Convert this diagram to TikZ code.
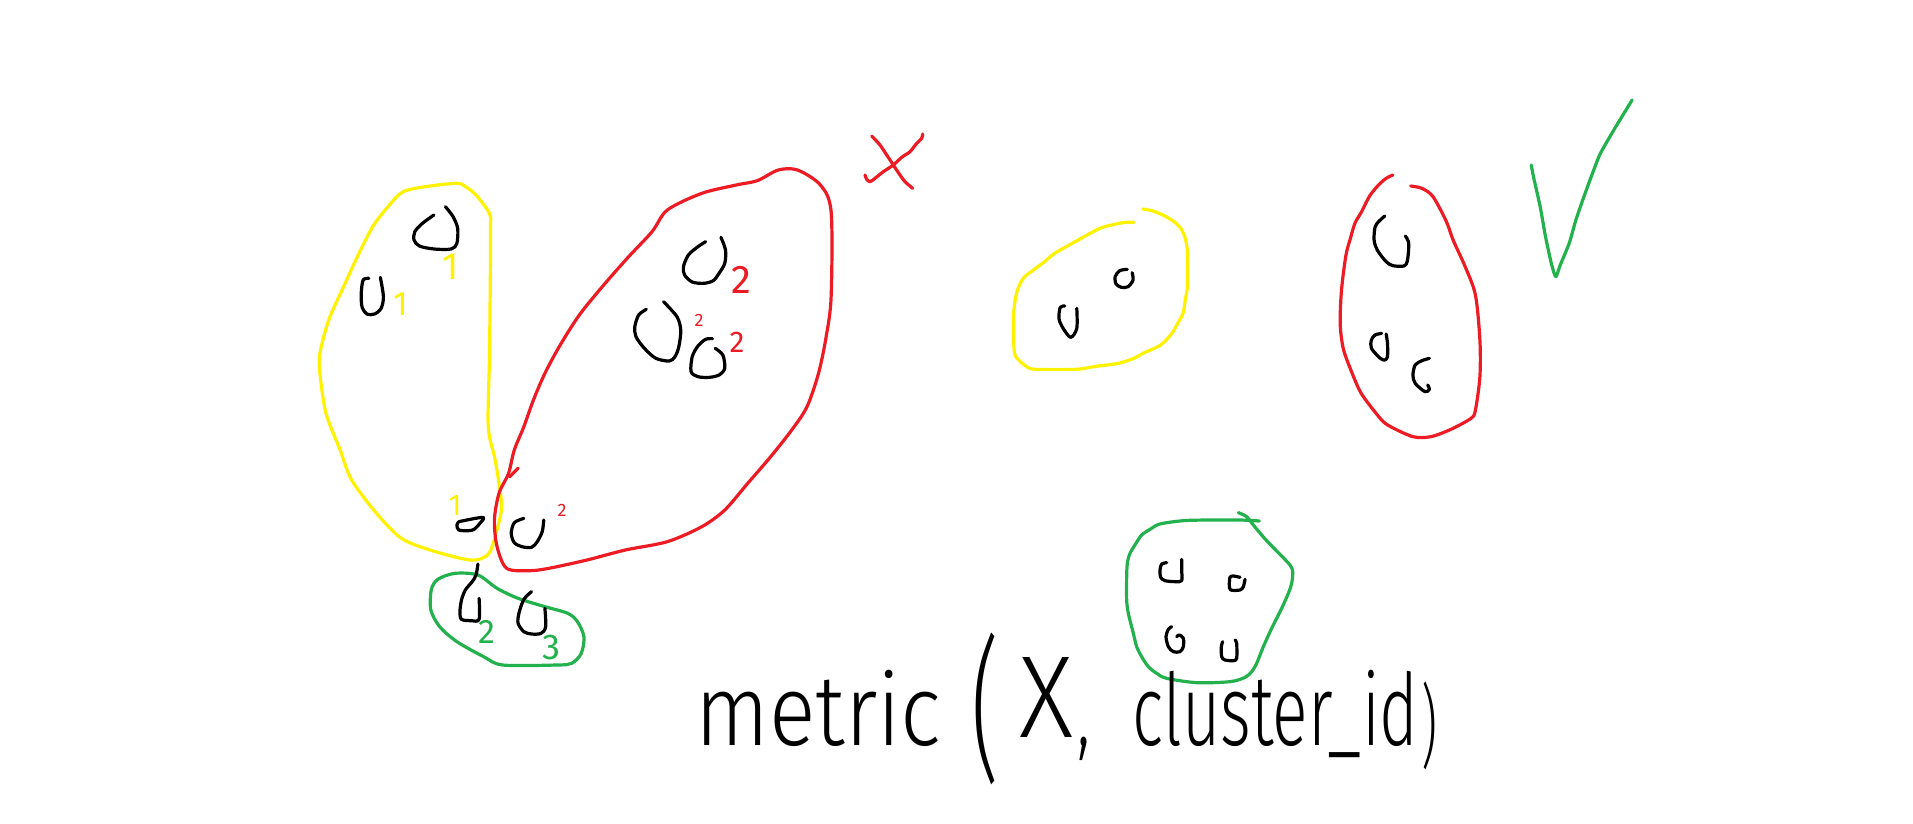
\documentclass[tikz,border=0pt]{standalone}
\usepackage{graphicx}
\usepackage{fontspec}
\newfontfamily\hand{Fira Sans Light}
\newfontfamily\digit{Fira Sans}
\definecolor{pyellow}{RGB}{255,242,0}
\definecolor{pred}{RGB}{237,28,36}
\definecolor{pgreen}{RGB}{34,177,76}
\tikzset{
  pen/.style={line width=1.6pt, line cap=round, line join=round},
  yel/.style={pen, draw=pyellow},
  rd/.style={pen, draw=pred},
  grn/.style={pen, draw=pgreen},
  blk/.style={pen, draw=black},
  lab/.style={inner sep=0pt},
  frameA/.style={x=0.19133pt, y=-0.166667pt},
  frameB/.style={x=0.22321pt, y=-0.166667pt},
  frameC/.style={x=0.166667pt, y=-0.166667pt}
}
\begin{document}
\begin{tikzpicture}[x=0.5pt, y=-0.5pt]
\useasboundingbox (0,0) rectangle (1913,824);
% ---------- left group ----------
\begin{scope}[shift={(300,160)}, frameA]
% yellow big loop
\draw[yel] plot[smooth cycle, tension=0.5] coordinates {(410,70) (340,78) (270,95) (230,140) (190,200) (150,290) (110,390) (75,480) (52,580) (52,640) (68,760) (105,870) (135,960) (200,1060) (265,1135) (340,1170) (420,1195) (460,1200) (490,1185) (505,1150) (525,1060) (525,1010) (510,900) (492,800) (495,600) (497,400) (498,200) (495,160) (460,105) (430,78)};
% red big loop
\draw[rd] plot[smooth cycle, tension=0.5] coordinates {(1250,30) (1300,30) (1360,75) (1388,155) (1388,410) (1375,530) (1355,640) (1325,740) (1285,810) (1230,890) (1170,970) (1110,1050) (1050,1100) (960,1145) (850,1170) (750,1200) (650,1225) (600,1232) (540,1225) (515,1160) (508,1080) (520,1000) (545,940) (560,870) (585,800) (610,720) (640,640) (680,555) (730,465) (790,380) (855,295) (920,215) (960,150) (1050,100) (1140,75) (1195,62)};
\draw[rd] (548,950) -- (570,925);
% green small loop
\draw[grn] plot[smooth cycle, tension=0.5] coordinates {(405,1240) (360,1258) (343,1290) (342,1350) (365,1400) (410,1445) (480,1490) (530,1515) (670,1515) (710,1510) (735,1480) (742,1430) (725,1385) (700,1360) (640,1340) (570,1315) (515,1285) (465,1245)};
% black points
\draw[blk] plot[smooth, tension=0.5] coordinates {(350,165) (320,190) (300,215) (298,240) (312,258) (350,267) (395,267) (410,250) (412,205) (400,170) (380,140)};
\draw[blk] plot[smooth, tension=0.5] coordinates {(180,355) (165,360) (160,400) (162,440) (175,462) (195,462) (212,445) (218,410) (210,352)};
\draw[blk] plot[smooth, tension=0.5] coordinates {(1100,232) (1112,270) (1110,310) (1095,340) (1080,362) (1055,370) (1025,366) (1005,345) (1002,320) (1015,285) (1040,260) (1060,245)};
\draw[blk] plot[smooth, tension=0.5] coordinates {(905,448) (885,465) (875,500) (878,530) (900,565) (930,595) (965,603) (980,590) (990,560) (995,510) (985,470) (950,425)};
\draw[blk] plot[smooth, tension=0.5] coordinates {(1085,565) (1105,585) (1110,625) (1095,645) (1070,652) (1040,650) (1022,635) (1025,590) (1040,558) (1060,538) (1078,536)};
\draw[blk] plot[smooth, tension=0.5] coordinates {(415,1085) (478,1072) (470,1090) (455,1108) (440,1112) (415,1110) (410,1095) (415,1085)};
\draw[blk] plot[smooth, tension=0.5] coordinates {(585,1075) (560,1088) (552,1120) (560,1148) (580,1160) (605,1162) (620,1145) (633,1115) (637,1080)};
\draw[blk] plot[smooth, tension=0.5] coordinates {(465,1212) (460,1245) (450,1265) (432,1290) (422,1320) (418,1355) (422,1378) (448,1382) (468,1378) (468,1315)};
\draw[blk] plot[smooth, tension=0.5] coordinates {(605,1295) (585,1318) (572,1360) (570,1390) (585,1415) (605,1422) (630,1420) (642,1400) (640,1345)};
\end{scope}
% ---------- red cross ----------
\begin{scope}[shift={(850,120)}, frameC]
\draw[rd] plot[smooth, tension=0.5] coordinates {(65,48) (90,75) (110,105) (130,135) (150,165) (165,185) (188,205)};
\draw[rd] plot[smooth, tension=0.5] coordinates {(218,42) (215,55) (200,70) (180,95) (155,112) (130,135) (100,155) (75,175) (60,185) (50,178) (45,165)};
\end{scope}
% ---------- right groups ----------
\begin{scope}[shift={(1000,90)}, frameB]
\draw[yel] plot[smooth, tension=0.5] coordinates {(320,357) (340,362) (365,375) (390,395) (405,415) (415,445) (420,490) (420,585) (415,630) (410,670) (398,700) (385,730) (360,765) (320,790) (300,805) (265,820) (210,830) (170,838) (80,838) (60,830) (42,810) (32,785) (30,690) (32,650) (38,605) (52,565) (75,540) (100,515) (120,492) (155,465) (205,428) (230,412) (275,398) (300,397)};
\draw[blk] plot[smooth, tension=0.5] coordinates {(145,648) (135,652) (132,685) (140,712) (158,742) (172,715) (172,655)};
\draw[blk] plot[smooth, tension=0.5] coordinates {(285,538) (268,542) (258,560) (260,582) (272,592) (287,590) (298,570) (296,548)};
\draw[rd] plot[smooth, tension=0.5] coordinates {(880,255) (865,265) (848,285) (828,318) (810,365) (795,400) (785,445) (775,495) (765,600) (762,700) (768,770) (780,820) (805,900) (825,940) (855,990) (875,1010) (925,1040) (965,1040) (1010,1018) (1055,985) (1065,960) (1075,860) (1075,750) (1065,615) (1042,530) (1015,450) (1000,395) (970,320) (945,295) (920,288)};
\draw[blk] plot[smooth, tension=0.5] coordinates {(862,378) (848,395) (840,412) (838,450) (845,480) (865,515) (880,527) (905,528) (912,515) (915,485) (915,455) (908,438)};
\draw[blk] plot[smooth, tension=0.5] coordinates {(855,730) (840,735) (832,750) (832,775) (852,805) (862,810) (868,800) (868,760) (865,732)};
\draw[blk] plot[smooth, tension=0.5] coordinates {(962,805) (945,812) (930,825) (925,855) (930,880) (952,905) (962,898) (958,885)};
\draw[grn] plot[smooth, tension=0.4] coordinates {(1190,225) (1195,260) (1210,350) (1222,440) (1235,520) (1245,560) (1255,525) (1275,460) (1290,390) (1308,320) (1330,240) (1345,190) (1375,120) (1400,65) (1416,30)};
\end{scope}
% ---------- bottom green group ----------
\begin{scope}[shift={(1100,490)}, frameC]
\draw[grn] plot[smooth, tension=0.5] coordinates {(478,93) (420,90) (330,90) (250,92) (180,102) (150,118) (125,135) (108,160) (90,190) (82,220) (80,260) (80,330) (85,370) (100,430) (110,470) (125,500) (145,530) (170,550) (200,565) (290,578) (390,575) (435,562) (455,545) (470,520) (490,470) (515,415) (545,355) (565,310) (575,280) (578,245) (570,225) (535,188) (498,150) (460,105) (440,80) (415,68)};
\draw[blk] plot[smooth, tension=0.5] coordinates {(200,218) (185,222) (180,240) (182,262) (195,272) (225,275) (245,272) (245,240) (245,208)};
\draw[blk] plot[smooth, tension=0.5] coordinates {(420,262) (400,258) (390,262) (388,285) (392,300) (420,300) (430,290) (435,268)};
\draw[blk] plot[smooth, tension=0.5] coordinates {(215,410) (205,418) (198,440) (205,470) (220,485) (240,485) (250,470) (250,445) (238,435) (230,440)};
\draw[blk] plot[smooth, tension=0.5] coordinates {(368,455) (364,470) (365,500) (375,510) (400,512) (410,505) (410,460) (405,450)};
\end{scope}
% ---------- cluster labels ----------
\node[lab, text=pyellow, font=\digit\fontsize{19}{19}\selectfont] (y1a) at (451,267) {1};
\node[lab, text=pyellow, font=\digit\fontsize{17}{17}\selectfont] (y1b) at (401,304) {1};
\node[lab, text=pyellow, font=\digit\fontsize{15}{15}\selectfont] (y1c) at (455,505) {1};
\node[lab, text=pred, font=\digit\fontsize{20}{20}\selectfont] (r2a) at (741,280) {2};
\node[lab, text=pred, font=\digit\fontsize{9}{9}\selectfont] (r2b) at (699,320) {2};
\node[lab, text=pred, font=\digit\fontsize{15}{15}\selectfont] (r2c) at (737,342) {2};
\node[lab, text=pred, font=\digit\fontsize{9}{9}\selectfont] (r2d) at (562,510) {2};
\node[lab, text=pgreen, font=\digit\fontsize{17}{17}\selectfont] (g2) at (487,632) {2};
\node[lab, text=pgreen, font=\digit\fontsize{18}{18}\selectfont] (g3) at (551,647) {3};
% ---------- formula ----------
\node[inner sep=0pt, anchor=base west, font=\hand\fontsize{50}{50}\selectfont] (formula) at (695,745)
  {\resizebox{123pt}{\height}{metric}\hspace{15pt}\raisebox{-9pt}{\resizebox*{14pt}{76pt}{(}}\hspace{10pt}\raisebox{4pt}{\resizebox{27pt}{40pt}{X}}\hspace{2pt}\resizebox{6.5pt}{\height}{,}\hspace{21pt}\resizebox{143pt}{\height}{cluster\_id}\hspace{1.5pt}\raisebox{-6pt}{\resizebox*{8pt}{44pt}{)}}};
\end{tikzpicture}
\end{document}
